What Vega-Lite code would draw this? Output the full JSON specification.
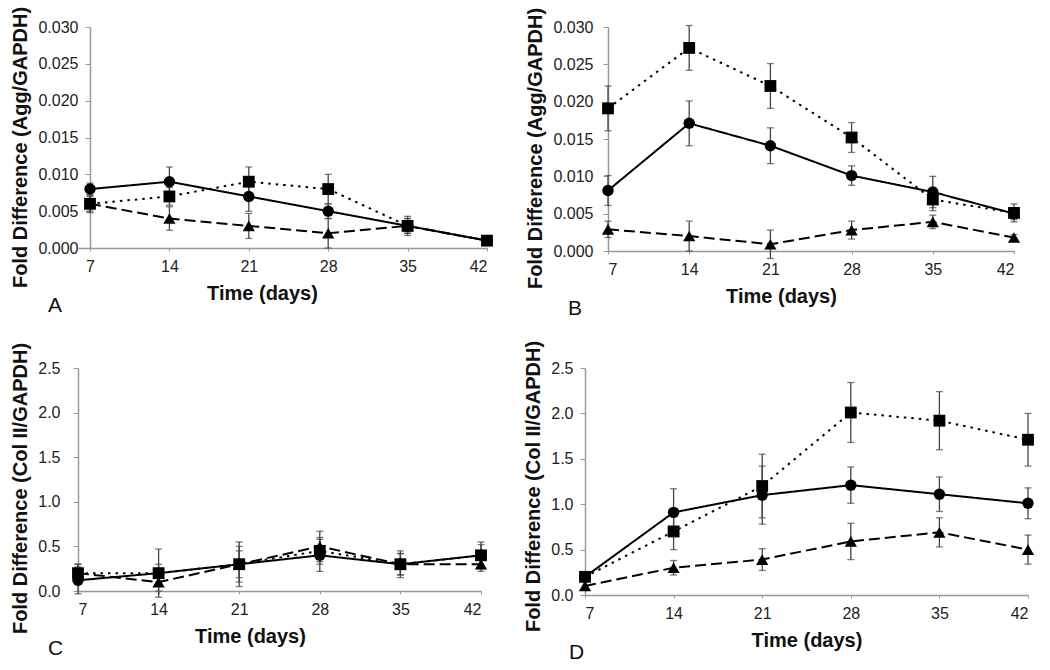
{
  "$schema": "https://vega.github.io/schema/vega-lite/v6.json",
  "background": "white",
  "padding": {"left": 10, "top": 6, "right": 5, "bottom": 5},
  "datasets": {
    "pts": [
      {"panel": "A", "series": "circle", "day": 7, "value": 0.008, "err": 0.0008},
      {"panel": "A", "series": "circle", "day": 14, "value": 0.009, "err": 0.002},
      {"panel": "A", "series": "circle", "day": 21, "value": 0.007, "err": 0.002},
      {"panel": "A", "series": "circle", "day": 28, "value": 0.005, "err": 0.001},
      {"panel": "A", "series": "circle", "day": 35, "value": 0.003, "err": 0.001},
      {"panel": "A", "series": "circle", "day": 42, "value": 0.001, "err": 0.0003},
      {"panel": "A", "series": "square", "day": 7, "value": 0.006, "err": 0.0012},
      {"panel": "A", "series": "square", "day": 14, "value": 0.007, "err": 0.0012},
      {"panel": "A", "series": "square", "day": 21, "value": 0.009, "err": 0.002},
      {"panel": "A", "series": "square", "day": 28, "value": 0.008, "err": 0.002},
      {"panel": "A", "series": "square", "day": 35, "value": 0.003, "err": 0.0013},
      {"panel": "A", "series": "square", "day": 42, "value": 0.001, "err": 0.0002},
      {"panel": "A", "series": "triangle", "day": 7, "value": 0.006, "err": 0.001},
      {"panel": "A", "series": "triangle", "day": 14, "value": 0.004, "err": 0.0016},
      {"panel": "A", "series": "triangle", "day": 21, "value": 0.003, "err": 0.0017},
      {"panel": "A", "series": "triangle", "day": 28, "value": 0.002, "err": 0.002},
      {"panel": "A", "series": "triangle", "day": 35, "value": 0.003, "err": 0.001},
      {"panel": "A", "series": "triangle", "day": 42, "value": 0.001, "err": 0},
      {"panel": "B", "series": "circle", "day": 7, "value": 0.0081, "err": 0.002},
      {"panel": "B", "series": "circle", "day": 14, "value": 0.0171, "err": 0.003},
      {"panel": "B", "series": "circle", "day": 21, "value": 0.0141, "err": 0.0024},
      {"panel": "B", "series": "circle", "day": 28, "value": 0.0101, "err": 0.0013},
      {"panel": "B", "series": "circle", "day": 35, "value": 0.0079, "err": 0.0021},
      {"panel": "B", "series": "circle", "day": 42, "value": 0.005, "err": 0.0008},
      {"panel": "B", "series": "square", "day": 7, "value": 0.0191, "err": 0.003},
      {"panel": "B", "series": "square", "day": 14, "value": 0.0272, "err": 0.003},
      {"panel": "B", "series": "square", "day": 21, "value": 0.0221, "err": 0.003},
      {"panel": "B", "series": "square", "day": 28, "value": 0.0152, "err": 0.002},
      {"panel": "B", "series": "square", "day": 35, "value": 0.0069, "err": 0.0015},
      {"panel": "B", "series": "square", "day": 42, "value": 0.0051, "err": 0.0012},
      {"panel": "B", "series": "triangle", "day": 7, "value": 0.0029, "err": 0.0011},
      {"panel": "B", "series": "triangle", "day": 14, "value": 0.002, "err": 0.002},
      {"panel": "B", "series": "triangle", "day": 21, "value": 0.0009, "err": 0.0019},
      {"panel": "B", "series": "triangle", "day": 28, "value": 0.0028, "err": 0.0012},
      {"panel": "B", "series": "triangle", "day": 35, "value": 0.0039, "err": 0.0009},
      {"panel": "B", "series": "triangle", "day": 42, "value": 0.0018, "err": 0.0004},
      {"panel": "C", "series": "circle", "day": 7, "value": 0.12, "err": 0.15},
      {"panel": "C", "series": "circle", "day": 14, "value": 0.2, "err": 0.27},
      {"panel": "C", "series": "circle", "day": 21, "value": 0.3, "err": 0.25},
      {"panel": "C", "series": "circle", "day": 28, "value": 0.4, "err": 0.18},
      {"panel": "C", "series": "circle", "day": 35, "value": 0.3, "err": 0.15},
      {"panel": "C", "series": "circle", "day": 42, "value": 0.4, "err": 0.12},
      {"panel": "C", "series": "square", "day": 7, "value": 0.2, "err": 0.1},
      {"panel": "C", "series": "square", "day": 14, "value": 0.2, "err": 0.1},
      {"panel": "C", "series": "square", "day": 21, "value": 0.3, "err": 0.2},
      {"panel": "C", "series": "square", "day": 28, "value": 0.45, "err": 0.15},
      {"panel": "C", "series": "square", "day": 35, "value": 0.3, "err": 0.12},
      {"panel": "C", "series": "square", "day": 42, "value": 0.4, "err": 0.15},
      {"panel": "C", "series": "triangle", "day": 7, "value": 0.2, "err": 0.1},
      {"panel": "C", "series": "triangle", "day": 14, "value": 0.1, "err": 0.1},
      {"panel": "C", "series": "triangle", "day": 21, "value": 0.3, "err": 0.15},
      {"panel": "C", "series": "triangle", "day": 28, "value": 0.5, "err": 0.17},
      {"panel": "C", "series": "triangle", "day": 35, "value": 0.3, "err": 0.12},
      {"panel": "C", "series": "triangle", "day": 42, "value": 0.3, "err": 0.08},
      {"panel": "D", "series": "circle", "day": 7, "value": 0.2, "err": 0},
      {"panel": "D", "series": "circle", "day": 14, "value": 0.91, "err": 0.26},
      {"panel": "D", "series": "circle", "day": 21, "value": 1.1, "err": 0.32},
      {"panel": "D", "series": "circle", "day": 28, "value": 1.21, "err": 0.2},
      {"panel": "D", "series": "circle", "day": 35, "value": 1.11, "err": 0.19},
      {"panel": "D", "series": "circle", "day": 42, "value": 1.01, "err": 0.17},
      {"panel": "D", "series": "square", "day": 7, "value": 0.2, "err": 0},
      {"panel": "D", "series": "square", "day": 14, "value": 0.7, "err": 0.2},
      {"panel": "D", "series": "square", "day": 21, "value": 1.2, "err": 0.35},
      {"panel": "D", "series": "square", "day": 28, "value": 2.01, "err": 0.33},
      {"panel": "D", "series": "square", "day": 35, "value": 1.92, "err": 0.32},
      {"panel": "D", "series": "square", "day": 42, "value": 1.71, "err": 0.29},
      {"panel": "D", "series": "triangle", "day": 7, "value": 0.1, "err": 0},
      {"panel": "D", "series": "triangle", "day": 14, "value": 0.3, "err": 0.08},
      {"panel": "D", "series": "triangle", "day": 21, "value": 0.39, "err": 0.12},
      {"panel": "D", "series": "triangle", "day": 28, "value": 0.59, "err": 0.2},
      {"panel": "D", "series": "triangle", "day": 35, "value": 0.69, "err": 0.16},
      {"panel": "D", "series": "triangle", "day": 42, "value": 0.5, "err": 0.16}
    ]
  },
  "spacing": 21,
  "vconcat": [
    {
      "spacing": 31,
      "hconcat": [
        {
          "width": 409, "height": 221,
          "data": {"name": "pts"},
          "transform": [{"filter": "datum.panel === 'A'"}],
          "title": {"text": "A", "orient": "bottom", "anchor": "start", "frame": "group", "dx": -30, "offset": -8},
          "encoding": {
            "x": {"field": "day", "type": "quantitative", "scale": {"domain": [5.942, 42], "nice": false, "zero": false}, "axis": {"values": [7, 14, 21, 28, 35, 42], "title": "Time (days)", "tickSize": 3, "labelPadding": 7, "titleX": 184}},
            "y": {"field": "value", "type": "quantitative", "scale": {"domain": [0, 0.03], "nice": false}, "axis": {"values": [0, 0.005, 0.01, 0.015, 0.02, 0.025, 0.03], "format": ".3f", "title": "Fold Difference (Agg/GAPDH)", "labelPadding": 7, "titleY": 120, "offset": -12}}
          },
          "layer": [
            {"transform": [{"filter": "datum.err > 0"}], "mark": {"type": "errorbar", "ticks": true, "size": 7, "thickness": 1.3, "color": "#444"}, "encoding": {"yError": {"field": "err"}, "detail": {"field": "series"}}},
            {"mark": {"type": "line", "color": "#000", "strokeWidth": 2}, "encoding": {"strokeDash": {"field": "series", "type": "nominal", "scale": {"domain": ["circle", "square", "triangle"], "range": [[1, 0], [2.5, 5], [11, 5]]}, "legend": null}}},
            {"mark": {"type": "point", "filled": true, "color": "#000", "opacity": 1}, "encoding": {"shape": {"field": "series", "type": "nominal", "scale": {"domain": ["circle", "square", "triangle"], "range": ["circle", "square", "triangle-up"]}, "legend": null}, "size": {"field": "series", "type": "nominal", "scale": {"domain": ["circle", "square", "triangle"], "range": [130, 150, 130]}, "legend": null}}}
          ]
        },
        {
          "width": 406, "height": 224,
          "data": {"name": "pts"},
          "transform": [{"filter": "datum.panel === 'B'"}],
          "title": {"text": "B", "orient": "bottom", "anchor": "start", "frame": "group", "dx": -40, "offset": -8},
          "encoding": {
            "x": {"field": "day", "type": "quantitative", "scale": {"domain": [7, 42], "nice": false, "zero": false}, "axis": {"values": [7, 14, 21, 28, 35, 42], "title": "Time (days)", "tickSize": 3, "labelPadding": 7, "titleX": 173}},
            "y": {"field": "value", "type": "quantitative", "scale": {"domain": [0, 0.03], "nice": false}, "axis": {"values": [0, 0.005, 0.01, 0.015, 0.02, 0.025, 0.03], "format": ".3f", "title": "Fold Difference (Agg/GAPDH)", "labelPadding": 10, "titleY": 121}}
          },
          "layer": [
            {"transform": [{"filter": "datum.err > 0"}], "mark": {"type": "errorbar", "ticks": true, "size": 7, "thickness": 1.3, "color": "#444"}, "encoding": {"yError": {"field": "err"}, "detail": {"field": "series"}}},
            {"mark": {"type": "line", "color": "#000", "strokeWidth": 2}, "encoding": {"strokeDash": {"field": "series", "type": "nominal", "scale": {"domain": ["circle", "square", "triangle"], "range": [[1, 0], [2.5, 5], [11, 5]]}, "legend": null}}},
            {"mark": {"type": "point", "filled": true, "color": "#000", "opacity": 1}, "encoding": {"shape": {"field": "series", "type": "nominal", "scale": {"domain": ["circle", "square", "triangle"], "range": ["circle", "square", "triangle-up"]}, "legend": null}, "size": {"field": "series", "type": "nominal", "scale": {"domain": ["circle", "square", "triangle"], "range": [130, 150, 130]}, "legend": null}}}
          ]
        }
      ]
    },
    {
      "spacing": 35,
      "hconcat": [
        {
          "width": 403, "height": 223,
          "data": {"name": "pts"},
          "transform": [{"filter": "datum.panel === 'C'"}],
          "title": {"text": "C", "orient": "bottom", "anchor": "start", "frame": "group", "dx": -30, "offset": -8},
          "encoding": {
            "x": {"field": "day", "type": "quantitative", "scale": {"domain": [7, 42], "nice": false, "zero": false}, "axis": {"values": [7, 14, 21, 28, 35, 42], "title": "Time (days)", "tickSize": 3, "labelPadding": 7, "titleX": 172}},
            "y": {"field": "value", "type": "quantitative", "scale": {"domain": [0, 2.5], "nice": false}, "axis": {"values": [0, 0.5, 1, 1.5, 2, 2.5], "format": ".1f", "title": "Fold Difference (Col II/GAPDH)", "labelPadding": 13, "titleY": 120}}
          },
          "layer": [
            {"transform": [{"filter": "datum.err > 0"}], "mark": {"type": "errorbar", "ticks": true, "size": 7, "thickness": 1.3, "color": "#444"}, "encoding": {"yError": {"field": "err"}, "detail": {"field": "series"}}},
            {"mark": {"type": "line", "color": "#000", "strokeWidth": 2}, "encoding": {"strokeDash": {"field": "series", "type": "nominal", "scale": {"domain": ["circle", "square", "triangle"], "range": [[1, 0], [2.5, 5], [11, 5]]}, "legend": null}}},
            {"mark": {"type": "point", "filled": true, "color": "#000", "opacity": 1}, "encoding": {"shape": {"field": "series", "type": "nominal", "scale": {"domain": ["circle", "square", "triangle"], "range": ["circle", "square", "triangle-up"]}, "legend": null}, "size": {"field": "series", "type": "nominal", "scale": {"domain": ["circle", "square", "triangle"], "range": [130, 150, 130]}, "legend": null}}}
          ]
        },
        {
          "width": 443, "height": 227,
          "data": {"name": "pts"},
          "transform": [{"filter": "datum.panel === 'D'"}],
          "title": {"text": "D", "orient": "bottom", "anchor": "start", "frame": "group", "dx": -16, "offset": -8},
          "encoding": {
            "x": {"field": "day", "type": "quantitative", "scale": {"domain": [7, 42], "nice": false, "zero": false}, "axis": {"values": [7, 14, 21, 28, 35, 42], "title": "Time (days)", "tickSize": 3, "labelPadding": 7}},
            "y": {"field": "value", "type": "quantitative", "scale": {"domain": [0, 2.5], "nice": false}, "axis": {"values": [0, 0.5, 1, 1.5, 2, 2.5], "format": ".1f", "title": "Fold Difference (Col II/GAPDH)", "labelPadding": 7, "titleY": 118}}
          },
          "layer": [
            {"transform": [{"filter": "datum.err > 0"}], "mark": {"type": "errorbar", "ticks": true, "size": 7, "thickness": 1.3, "color": "#444"}, "encoding": {"yError": {"field": "err"}, "detail": {"field": "series"}}},
            {"mark": {"type": "line", "color": "#000", "strokeWidth": 2}, "encoding": {"strokeDash": {"field": "series", "type": "nominal", "scale": {"domain": ["circle", "square", "triangle"], "range": [[1, 0], [2.5, 5], [11, 5]]}, "legend": null}}},
            {"mark": {"type": "point", "filled": true, "color": "#000", "opacity": 1}, "encoding": {"shape": {"field": "series", "type": "nominal", "scale": {"domain": ["circle", "square", "triangle"], "range": ["circle", "square", "triangle-up"]}, "legend": null}, "size": {"field": "series", "type": "nominal", "scale": {"domain": ["circle", "square", "triangle"], "range": [130, 150, 130]}, "legend": null}}}
          ]
        }
      ]
    }
  ],
  "config": {
    "view": {"stroke": null},
    "axis": {"grid": false, "domainColor": "#999", "tickColor": "#999", "domainWidth": 1.5, "labelFont": "Liberation Sans", "labelFontSize": 16, "labelColor": "#222", "titleFont": "Liberation Sans", "titleFontSize": 20, "titleFontWeight": "bold", "titleColor": "#111", "tickSize": 5, "titlePadding": 7},
    "axisX": {"titlePadding": 9},
    "title": {"font": "Liberation Sans", "fontSize": 21, "fontWeight": "normal", "color": "#111"}
  }
}
